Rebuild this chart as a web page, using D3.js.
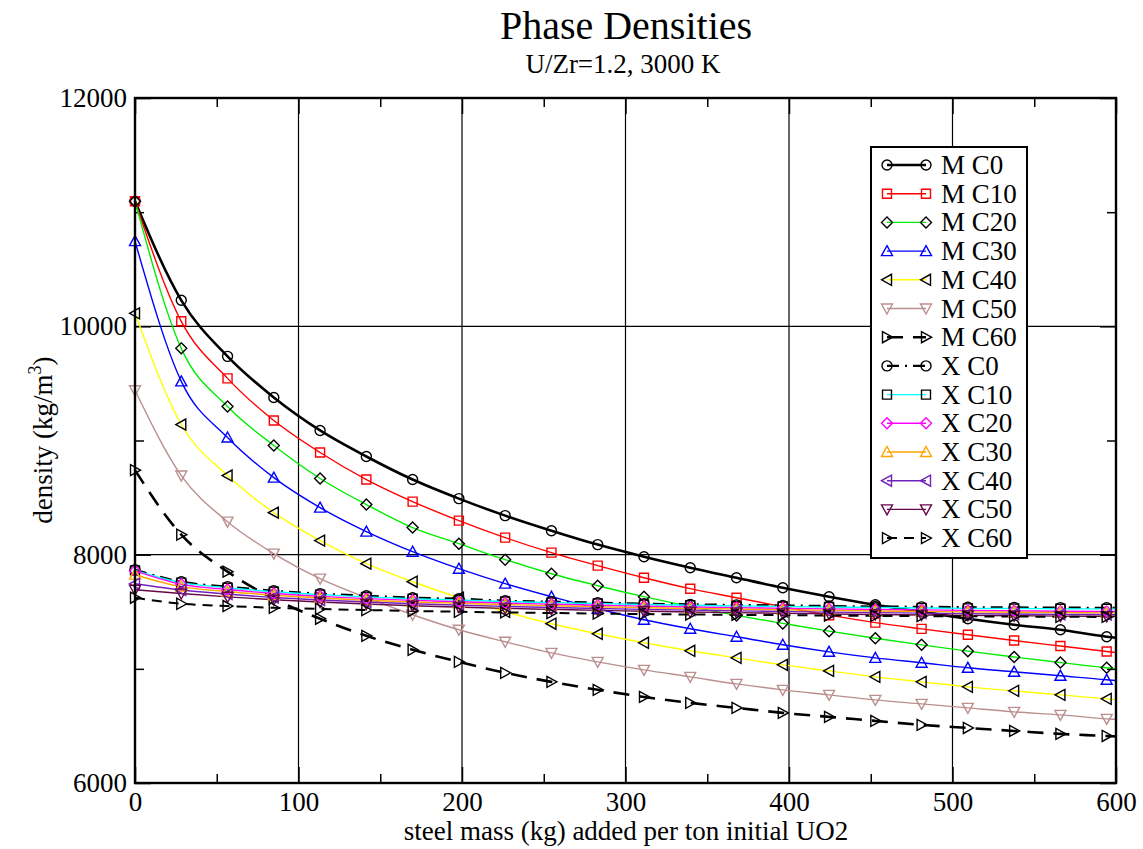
<!DOCTYPE html>
<html>
<head>
<meta charset="utf-8">
<script src="https://cdn.jsdelivr.net/npm/d3@7"></script>
<style>
  body { margin: 0; background: #fff; }
  svg { display: block; font-family: "Liberation Serif", "Times New Roman", serif; }
</style>
</head>
<body>
<svg id="chart" width="1143" height="849"></svg>
<script>
// Steel mass added per ton of initial UO2 (kg)
const massKg = [0, 28.3, 56.6, 84.9, 113.2, 141.5, 169.8, 198.1, 226.4, 254.7, 283, 311.3,
  339.6, 367.9, 396.2, 424.5, 452.8, 481.1, 509.4, 537.7, 566, 594.3, 600];

// Metallic phase densities (kg/m3)
const mC0 = [11096, 10228, 9737, 9377, 9088, 8860, 8658, 8491, 8342, 8210, 8088, 7982, 7886, 7798, 7710, 7632, 7561, 7500, 7439, 7386, 7342, 7281, 7272];
const mC10 = [11096, 10044, 9544, 9175, 8895, 8658, 8465, 8298, 8149, 8018, 7904, 7798, 7702, 7623, 7544, 7470, 7405, 7350, 7298, 7248, 7200, 7152, 7143];
const mC20 = [11096, 9807, 9298, 8956, 8667, 8439, 8237, 8096, 7956, 7833, 7728, 7632, 7545, 7468, 7398, 7330, 7268, 7210, 7155, 7104, 7055, 7010, 7002];
const mC30 = [10746, 9518, 9026, 8675, 8412, 8202, 8026, 7877, 7746, 7632, 7526, 7430, 7351, 7281, 7211, 7149, 7096, 7053, 7009, 6974, 6939, 6904, 6898];
const mC40 = [10114, 9140, 8693, 8368, 8123, 7921, 7763, 7623, 7500, 7395, 7307, 7228, 7158, 7096, 7035, 6982, 6930, 6886, 6842, 6807, 6772, 6737, 6730];
const mC50 = [9440, 8693, 8289, 8009, 7790, 7623, 7474, 7342, 7237, 7140, 7061, 6991, 6930, 6868, 6816, 6772, 6728, 6693, 6658, 6623, 6597, 6562, 6556];
const mC60 = [8740, 8175, 7851, 7614, 7439, 7289, 7167, 7061, 6965, 6886, 6816, 6754, 6702, 6658, 6614, 6579, 6544, 6509, 6482, 6456, 6430, 6412, 6408];

// Oxide phase densities (kg/m3)
const xC0 = [7868, 7763, 7720, 7684, 7658, 7640, 7623, 7614, 7596, 7588, 7580, 7570, 7565, 7560, 7555, 7550, 7546, 7543, 7540, 7538, 7536, 7535, 7535];
const xC10 = [7862, 7755, 7710, 7675, 7650, 7630, 7614, 7603, 7590, 7580, 7572, 7563, 7557, 7551, 7546, 7541, 7537, 7533, 7530, 7528, 7526, 7525, 7525];
const xC20 = [7858, 7740, 7695, 7660, 7635, 7615, 7600, 7588, 7576, 7566, 7557, 7549, 7542, 7536, 7530, 7525, 7520, 7516, 7512, 7508, 7505, 7502, 7502];
const xC30 = [7825, 7720, 7677, 7645, 7620, 7601, 7586, 7574, 7563, 7553, 7544, 7536, 7529, 7523, 7517, 7512, 7507, 7503, 7499, 7496, 7493, 7490, 7490];
const xC40 = [7745, 7690, 7655, 7625, 7603, 7585, 7570, 7558, 7547, 7537, 7529, 7521, 7514, 7508, 7502, 7497, 7492, 7488, 7484, 7480, 7477, 7475, 7475];
const xC50 = [7693, 7660, 7630, 7605, 7585, 7568, 7553, 7541, 7530, 7521, 7512, 7505, 7498, 7492, 7486, 7481, 7476, 7472, 7468, 7465, 7462, 7460, 7460];
const xC60 = [7623, 7570, 7550, 7535, 7524, 7515, 7507, 7500, 7494, 7489, 7484, 7480, 7476, 7473, 7470, 7467, 7464, 7462, 7460, 7458, 7456, 7455, 7455];

const seriesNames = ["M C0", "M C10", "M C20", "M C30", "M C40", "M C50", "M C60",
  "X C0", "X C10", "X C20", "X C30", "X C40", "X C50", "X C60"];
const seriesValues = [mC0, mC10, mC20, mC30, mC40, mC50, mC60,
  xC0, xC10, xC20, xC30, xC40, xC50, xC60];

const xTicks = [0, 100, 200, 300, 400, 500, 600];
const xMinorTicks = [50, 150, 250, 350, 450, 550];
const yTicks = [6000, 8000, 10000, 12000];
const yMinorTicks = [7000, 9000, 11000];

// Line and symbol styling for each series
const styles = [
  { line: "#000000", width: 2.6, dash: null, sym: "circle", symColor: "#000000" },
  { line: "#ff0000", width: 1.4, dash: null, sym: "square", symColor: "#ff0000" },
  { line: "#00ee00", width: 1.4, dash: null, sym: "diamond", symColor: "#000000" },
  { line: "#0000ff", width: 1.4, dash: null, sym: "triUp", symColor: "#0000ff" },
  { line: "#ffff00", width: 1.4, dash: null, sym: "triLeft", symColor: "#000000" },
  { line: "#bc8f8f", width: 1.4, dash: null, sym: "triDown", symColor: "#bc8f8f" },
  { line: "#000000", width: 2.6, dash: "16,10", sym: "triRight", symColor: "#000000" },
  { line: "#000000", width: 2.2, dash: "12,6,2,6", sym: "circle", symColor: "#000000" },
  { line: "#00ffff", width: 1.4, dash: null, sym: "square", symColor: "#000000" },
  { line: "#ff00ff", width: 1.4, dash: null, sym: "diamond", symColor: "#ff00ff" },
  { line: "#ffa500", width: 1.4, dash: null, sym: "triUp", symColor: "#ffa500" },
  { line: "#7221bc", width: 1.4, dash: null, sym: "triLeft", symColor: "#7221bc" },
  { line: "#670748", width: 1.4, dash: null, sym: "triDown", symColor: "#670748" },
  { line: "#000000", width: 2.0, dash: "10,7", sym: "triRight", symColor: "#000000" }
];

const svg = d3.select("#chart");
const plotLeft = 135, plotRight = 1116, plotTop = 98, plotBottom = 783;
const x = d3.scaleLinear().domain([0, 600]).range([plotLeft, plotRight]);
const y = d3.scaleLinear().domain([6000, 12000]).range([plotBottom, plotTop]);

// Open marker shapes
function symbolPath(kind, cx, cy) {
  const p = d3.path();
  switch (kind) {
    case "circle": p.moveTo(cx + 5, cy); p.arc(cx, cy, 5, 0, 2 * Math.PI); break;
    case "square": p.rect(cx - 4.5, cy - 4.5, 9, 9); break;
    case "diamond": p.moveTo(cx, cy - 5.5); p.lineTo(cx + 5.5, cy); p.lineTo(cx, cy + 5.5); p.lineTo(cx - 5.5, cy); p.closePath(); break;
    case "triUp": p.moveTo(cx, cy - 5.5); p.lineTo(cx + 5.5, cy + 4.5); p.lineTo(cx - 5.5, cy + 4.5); p.closePath(); break;
    case "triDown": p.moveTo(cx, cy + 5.5); p.lineTo(cx + 5.5, cy - 4.5); p.lineTo(cx - 5.5, cy - 4.5); p.closePath(); break;
    case "triLeft": p.moveTo(cx - 5.5, cy); p.lineTo(cx + 4.5, cy - 5.5); p.lineTo(cx + 4.5, cy + 5.5); p.closePath(); break;
    case "triRight": p.moveTo(cx + 5.5, cy); p.lineTo(cx - 4.5, cy - 5.5); p.lineTo(cx - 4.5, cy + 5.5); p.closePath(); break;
  }
  return p.toString();
}

// Grid
const grid = svg.append("g").attr("stroke", "#000").attr("stroke-width", 1.2);
grid.selectAll("line.gx").data(xTicks.slice(1, -1)).join("line")
  .attr("x1", d => x(d)).attr("x2", d => x(d)).attr("y1", plotTop).attr("y2", plotBottom);
grid.selectAll("line.gy").data(yTicks.slice(1, -1)).join("line")
  .attr("x1", plotLeft).attr("x2", plotRight).attr("y1", d => y(d)).attr("y2", d => y(d));

// Inward ticks on all four sides
function tickAxis(axis, tx, ty, size, values) {
  const g = svg.append("g").attr("transform", `translate(${tx},${ty})`)
    .call(axis.tickValues(values).tickSize(size).tickFormat(""));
  g.select(".domain").remove();
  g.selectAll("line").attr("stroke", "#000").attr("stroke-width", 1.5);
}
tickAxis(d3.axisTop(x), 0, plotBottom, 16, xTicks);
tickAxis(d3.axisTop(x), 0, plotBottom, 9, xMinorTicks);
tickAxis(d3.axisBottom(x), 0, plotTop, 16, xTicks);
tickAxis(d3.axisBottom(x), 0, plotTop, 9, xMinorTicks);
tickAxis(d3.axisRight(y), plotLeft, 0, 16, yTicks);
tickAxis(d3.axisRight(y), plotLeft, 0, 9, yMinorTicks);
tickAxis(d3.axisLeft(y), plotRight, 0, 16, yTicks);
tickAxis(d3.axisLeft(y), plotRight, 0, 9, yMinorTicks);

// Tick labels
const xLab = svg.append("g").attr("transform", `translate(0,${plotBottom})`)
  .call(d3.axisBottom(x).tickValues(xTicks).tickSize(0).tickPadding(9).tickFormat(d3.format("d")));
xLab.select(".domain").remove();
xLab.selectAll("text").attr("font-size", 27).attr("font-family", "Liberation Serif").attr("fill", "#000");
const yLab = svg.append("g").attr("transform", `translate(${plotLeft},0)`)
  .call(d3.axisLeft(y).tickValues(yTicks).tickSize(0).tickPadding(8).tickFormat(d3.format("d")));
yLab.select(".domain").remove();
yLab.selectAll("text").attr("font-size", 27).attr("font-family", "Liberation Serif").attr("fill", "#000");

// Curves
svg.append("clipPath").attr("id", "plotClip").append("rect")
  .attr("x", plotLeft).attr("y", plotTop).attr("width", plotRight - plotLeft).attr("height", plotBottom - plotTop);
const plot = svg.append("g").attr("clip-path", "url(#plotClip)");
const line = d3.line().x(d => x(d[0])).y(d => y(d[1])).curve(d3.curveMonotoneX);

seriesValues.forEach((vals, i) => {
  const st = styles[i];
  const pts = massKg.map((m, j) => [m, vals[j]]);
  plot.append("path").datum(pts)
    .attr("fill", "none").attr("stroke", st.line).attr("stroke-width", st.width)
    .attr("stroke-dasharray", st.dash).attr("d", line);
});
seriesValues.forEach((vals, i) => {
  const st = styles[i];
  // symbols on every sampled mass except the closing 600 kg point
  const pts = massKg.slice(0, -1).map((m, j) => [m, vals[j]]);
  svg.append("g").selectAll("path").data(pts).join("path")
    .attr("d", d => symbolPath(st.sym, x(d[0]), y(d[1])))
    .attr("fill", "none").attr("stroke", st.symColor).attr("stroke-width", 1.4);
});

// Frame
svg.append("rect").attr("x", plotLeft).attr("y", plotTop).attr("width", plotRight - plotLeft).attr("height", plotBottom - plotTop)
  .attr("fill", "none").attr("stroke", "#000").attr("stroke-width", 2.4);

// Legend
const lg = svg.append("g");
lg.append("rect").attr("x", 871).attr("y", 147).attr("width", 156).attr("height", 411)
  .attr("fill", "#fff").attr("stroke", "#000").attr("stroke-width", 2);
seriesNames.forEach((name, i) => {
  const st = styles[i];
  const cy = 165 + i * 28.7;
  lg.append("line").attr("x1", 887).attr("x2", 926).attr("y1", cy).attr("y2", cy)
    .attr("stroke", st.line).attr("stroke-width", st.width).attr("stroke-dasharray", st.dash);
  [887, 926].forEach(cx => lg.append("path").attr("d", symbolPath(st.sym, cx, cy))
    .attr("fill", "none").attr("stroke", st.symColor).attr("stroke-width", 1.4));
  lg.append("text").attr("x", 941).attr("y", cy + 9).attr("font-size", 27).text(name);
});

// Titles
svg.append("text").attr("x", 626).attr("y", 39).attr("text-anchor", "middle")
  .attr("font-size", 40).text("Phase Densities");
svg.append("text").attr("x", 623).attr("y", 73).attr("text-anchor", "middle")
  .attr("font-size", 27).text("U/Zr=1.2, 3000 K");
svg.append("text").attr("x", 626).attr("y", 840).attr("text-anchor", "middle")
  .attr("font-size", 27).text("steel mass (kg) added per ton initial UO2");
const yt = svg.append("text").attr("transform", "translate(52,440) rotate(-90)")
  .attr("text-anchor", "middle").attr("font-size", 27);
yt.append("tspan").text("density (kg/m");
yt.append("tspan").attr("font-size", 18).attr("dy", -11).text("3");
yt.append("tspan").attr("dy", 11).text(")");
</script>
</body>
</html>
